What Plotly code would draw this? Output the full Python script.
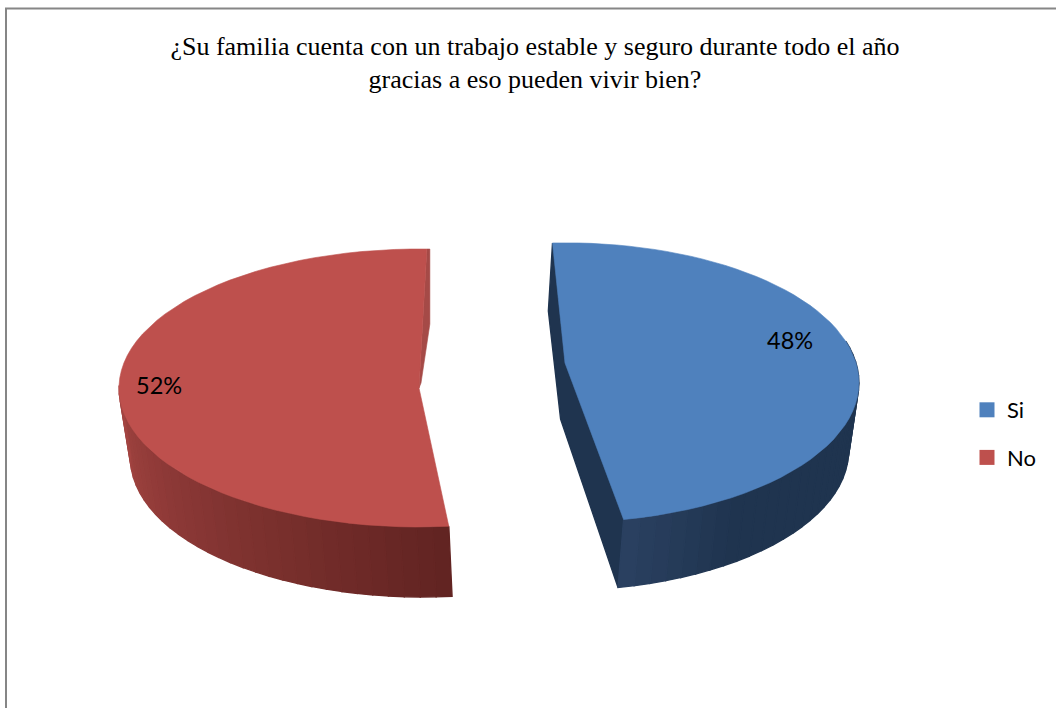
import math
import plotly.graph_objects as go

categories = ["Si", "No"]
values = [48, 52]
title_lines = ["¿Su familia cuenta con un trabajo estable y seguro durante todo el año",
               "gracias a eso pueden vivir bien?"]
top_colors = ["#4F81BD", "#BE504D"]
wall_left = [(42, 64, 96), (163, 68, 65)]
wall_right = [(31, 52, 79), (98, 36, 34)]
inner_colors = ["#1F344F", "#A54A47"]

W, H = 1056, 708
N = 60

# Projection of each slice of the pie (pixels of the chart's own axis)
view = [
    dict(cx=565, cy=363, a=291, b=137, p=0.14, start=-2.8, dx=-4.4, scale=0.98, depth=68, inner=56),
    dict(cx=419, cy=388, a=300, b=139, p=0.0, start=174.3, dx=4.0, scale=0.975, depth=70, inner=0),
]


def rim(v, deg):
    t = math.radians(deg)
    s = 1 / (1 + v["p"] * math.cos(t))
    return v["cx"] + v["a"] * math.sin(t) * s, v["cy"] - v["b"] * math.cos(t) * s


def low(v, pt):
    return v["cx"] + (pt[0] - v["cx"]) * v["scale"] + v["dx"], pt[1] + v["depth"]


def poly(pts, color, lw=1.4):
    xs = [p[0] for p in pts] + [pts[0][0]]
    ys = [p[1] for p in pts] + [pts[0][1]]
    return go.Scatter(x=xs, y=ys, mode="lines", fill="toself", fillcolor=color,
                      line=dict(color=color, width=lw), hoverinfo="skip", showlegend=False)


fig = go.Figure()
total = sum(values)
for i, v in enumerate(view):
    sweep = values[i] / total * 360
    angles = [v["start"] + sweep * k / N for k in range(N + 1)]
    top = [rim(v, a) for a in angles]
    apex = (v["cx"], v["cy"])
    # inner cut walls
    if i == 0:
        apex_low = (v["cx"] + v["dx"], v["cy"] + v["inner"])
        fig.add_trace(poly([top[0], low(v, top[0]), apex_low, low(v, top[-1]), top[-1], apex], inner_colors[i]))
    else:
        end = top[-1]
        fig.add_trace(poly([end, (end[0] + 3, end[1]), (end[0] + 3, end[1] + 75),
                            (apex[0] + 2, apex[1] - 5), apex], inner_colors[i], 0.6))
    # outer wall, shaded strip by strip
    vis = [k for k in range(N) if 90 <= (angles[k] % 360) <= 270 or (i == 0 and angles[k] >= 80)]
    for k in vis:
        f = (k - vis[0]) / max(1, len(vis) - 1)
        if i == 0:
            # lit only close to the cut at the front
            g = max(0.0, (f - 0.78) / 0.22)
        else:
            g = f
        c = [round(wall_right[i][j] + (wall_left[i][j] - wall_right[i][j]) * g) for j in range(3)]
        a, b = top[k], top[k + 1]
        fig.add_trace(poly([a, b, low(v, b), low(v, a)], f"rgb({c[0]},{c[1]},{c[2]})"))
    # top face
    pts = top + [apex]
    fig.add_trace(poly(pts, top_colors[i], 0.6))

# Value labels
label_pos = [(790, 340), (159, 385)]
for i, val in enumerate(values):
    fig.add_annotation(x=label_pos[i][0], y=label_pos[i][1], text=f"{val}%", showarrow=False,
                       font=dict(family="Lato", size=23.5, color="#000000"))

# Legend entries
for i, c in enumerate(categories):
    fig.add_trace(go.Scatter(x=[None], y=[None], mode="markers", name=c, legendgroup=c,
                             marker=dict(symbol="square", size=15, color=top_colors[i]),
                             hoverinfo="skip"))

fig.add_shape(type="path", path=f"M 6 {H} L 6 8.5 L {W} 8.5", line=dict(color="#868686", width=2))

fig.update_layout(
    width=W, height=H, margin=dict(l=0, r=0, t=0, b=0),
    paper_bgcolor="#FFFFFF", plot_bgcolor="#FFFFFF",
    title=dict(text="<br>".join(title_lines), x=535 / W, xanchor="center", y=1 - 54.5 / H, yanchor="top",
               font=dict(family="Liberation Serif", size=26, color="#000000")),
    xaxis=dict(range=[0, W], visible=False, fixedrange=True),
    yaxis=dict(range=[H, 0], visible=False, fixedrange=True),
    legend=dict(x=967 / W, y=1 - 389 / H, xanchor="left", yanchor="top", tracegroupgap=16,
                font=dict(family="Lato", size=22, color="#000000"), itemwidth=30,
                bgcolor="rgba(0,0,0,0)"),
    showlegend=True,
)
fig.write_html("out.html", config={"displayModeBar": False},
               post_script="document.body.style.margin='0';document.documentElement.style.overflow='hidden';")
